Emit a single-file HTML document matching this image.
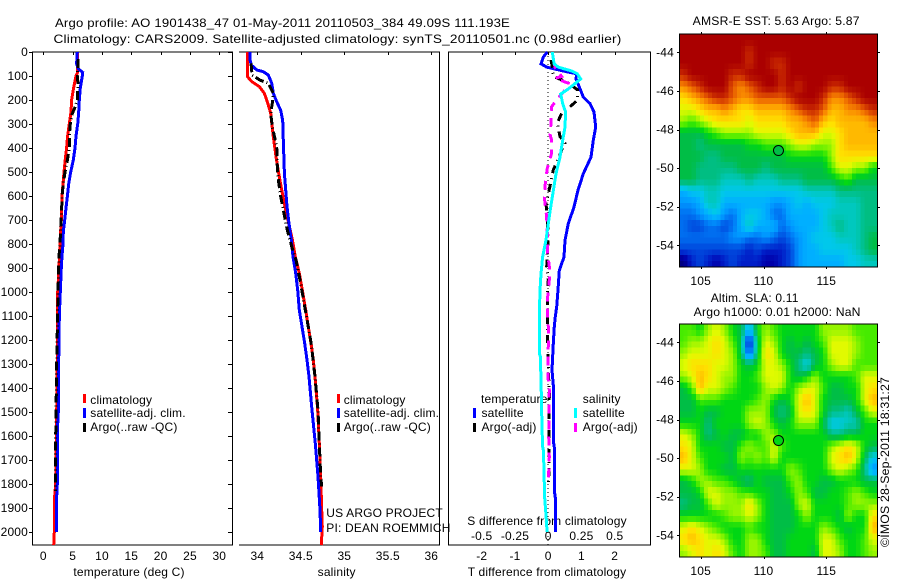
<!DOCTYPE html>
<html lang="en">
<head>
<meta charset="utf-8">
<title>Argo profile 1901438_47</title>
<style>
html,body{margin:0;padding:0;background:#fff;width:900px;height:580px;overflow:hidden}
svg{display:block}
text{font-family:"Liberation Sans",sans-serif;font-size:12px;fill:#000;letter-spacing:.17px}
.c{text-anchor:middle}
.r{text-anchor:end}
</style>
</head>
<body>
<svg id="fig" xmlns="http://www.w3.org/2000/svg" width="900" height="580" viewBox="0 0 900 580">
<text x="55" y="27" textLength="455" lengthAdjust="spacingAndGlyphs">Argo profile: AO 1901438_47 01-May-2011 20110503_384 49.09S 111.193E</text>
<text x="53.5" y="43" textLength="568" lengthAdjust="spacingAndGlyphs">Climatology: CARS2009. Satellite-adjusted climatology: synTS_20110501.nc (0.98d earlier)</text>

<text class="c" x="129" y="576">temperature (deg C)</text>
<text class="c" x="336.7" y="576">salinity</text>
<text class="c" x="547" y="576">T difference from climatology</text>
<text x="467.3" y="525">S difference from climatology</text>

<g>
<rect x="83" y="394" width="3" height="9" fill="#f00"/>
<rect x="83" y="408" width="3" height="10" fill="#00f"/>
<rect x="83" y="423" width="3" height="9" fill="#000"/>
<text x="90.3" y="404">climatology</text>
<text x="90.3" y="417">satellite-adj. clim.</text>
<text x="90.3" y="431">Argo(..raw -QC)</text>
</g>
<g>
<rect x="337" y="394" width="3" height="9" fill="#f00"/>
<rect x="337" y="408" width="3" height="10" fill="#00f"/>
<rect x="337" y="423" width="3" height="9" fill="#000"/>
<text x="343.7" y="404">climatology</text>
<text x="343.7" y="417">satellite-adj. clim.</text>
<text x="343.7" y="431">Argo(..raw -QC)</text>
<text x="326.3" y="517">US ARGO PROJECT</text>
<text x="326.3" y="532">PI: DEAN ROEMMICH</text>
</g>
<g>
<text x="481" y="403">temperature</text>
<text x="582.7" y="403">salinity</text>
<rect x="473" y="408" width="3" height="10" fill="#00f"/>
<rect x="473" y="423" width="3" height="9" fill="#000"/>
<rect x="574" y="408" width="3" height="10" fill="#0ff"/>
<rect x="574" y="423" width="3" height="9" fill="#f0f"/>
<text x="481.5" y="417">satellite</text>
<text x="481.5" y="431">Argo(-adj)</text>
<text x="582.7" y="417">satellite</text>
<text x="582.7" y="431">Argo(-adj)</text>
</g>

<text x="692.7" y="25" textLength="167" lengthAdjust="spacingAndGlyphs">AMSR-E SST: 5.63 Argo: 5.87</text>
<text x="710.7" y="302">Altim. SLA: 0.11</text>
<text x="693.7" y="316" textLength="167" lengthAdjust="spacingAndGlyphs">Argo h1000: 0.01 h2000: NaN</text>
<text transform="translate(889 547) rotate(-90)" textLength="170" lengthAdjust="spacingAndGlyphs">©IMOS 28-Sep-2011 18:31:27</text>
</svg>

<script>
// ---------- Depth axis ----------
const depthTicks = [0,100,200,300,400,500,600,700,800,900,1000,1100,1200,1300,1400,1500,1600,1700,1800,1900,2000];
const tempTicks = [0,5,10,15,20,25,30];
const salTicks = [34,34.5,35,35.5,36];
const tDiffTicks = [-2,-1,0,1,2];
const sDiffTicks = [-0.5,-0.25,0,0.25,0.5];
const sDiffTickLabels = ['-0.5','-0.25','0','0.25','0.5'];
const lonTicks = [105,110,115];
const latTicks = [-44,-46,-48,-50,-52,-54];
const floatLon = 111.193;
const floatLat = -49.09;
const floatSstLevel = 10;
const floatSlaLevel = 11;

// ---------- Temperature panel ----------
const tempClimDepth = [0,50,85,100,150,200,250,300,350,400,450,500,550,600,650,700,800,900,1000,1100,1300,1500,1800,1850,2000,2055];
const tempClimValue = [5.8,5.86,5.86,5.57,5.17,4.83,4.72,4.43,4.14,3.97,3.74,3.52,3.36,3.19,3.14,3.07,2.85,2.68,2.45,2.45,2.39,2.28,2.11,1.94,1.88,1.77];
const tempSatDepth = [0,50,70,85,100,150,200,250,300,350,400,450,500,550,600,650,700,750,800,850,900,1000,1100,1250,1300,1500,1550,1800,1850,2000];
const tempSatValue = [5.8,5.68,5.97,6.71,6.65,6.31,6.14,6.03,5.86,5.57,5.4,5.12,4.67,4.33,4.1,3.87,3.64,3.41,3.36,3.19,3.07,2.9,2.73,2.68,2.56,2.56,2.45,2.39,2.28,2.22];
const tempArgoDepth = [30,100,130,200,230,260,300,350,400,450,500,550,600,650,700,800,850,1000,1300,1600,1800,1830];
const tempArgoValue = [5.97,5.8,5.92,5.8,5.4,4.9,4.6,4.43,4.43,4.1,3.7,3.41,3.19,3.14,3.02,2.85,2.68,2.51,2.28,2.11,2.05,2.05];

// ---------- Salinity panel ----------
const salClimDepth = [0,102,123,144,172,207,255,353,436,505,575,644,714,783,853,922,992,1075,1144,1214,1283,1353,1492,1631,1769,1908,1977,2055];
const salClimValue = [33.885,33.885,33.935,34.023,34.081,34.115,34.154,34.184,34.215,34.246,34.28,34.318,34.361,34.403,34.437,34.483,34.517,34.556,34.586,34.617,34.644,34.663,34.694,34.713,34.729,34.74,34.747,34.736];
const salSatDepth = [0,33,54,75,82,96,130,172,207,243,285,367,505,575,644,714,783,853,922,992,1075,1144,1214,1283,1353,1492,1631,1769,1908,2000];
const salSatValue = [33.916,33.916,33.931,33.993,34.069,34.127,34.165,34.184,34.223,34.269,34.292,34.299,34.311,34.326,34.341,34.364,34.391,34.41,34.441,34.464,34.483,34.514,34.545,34.571,34.594,34.629,34.667,34.698,34.721,34.729];
const salArgoDepth = [47,96,117,130,172,213,255,311,394,477,533,602,658,742,811,866,950,1075,1214,1353,1492,1631,1769,1810];
const salArgoValue = [33.928,33.94,34.03,34.127,34.184,34.172,34.154,34.172,34.223,34.23,34.241,34.269,34.299,34.345,34.395,34.445,34.491,34.552,34.62,34.663,34.698,34.713,34.729,34.74];

// ---------- Difference panel ----------
const tSatDiffDepth = [0,21,49,63,79,91,112,146,188,215,250,313,368,438,507,576,646,715,785,854,910,992,1061,1103,1144,1214,1325,1408,1631,1658,1839,1867,2000];
const tSatDiffValue = [-0.026,-0.146,-0.217,-0.046,0.455,0.856,0.836,0.936,1.057,1.257,1.377,1.428,1.357,1.287,1.057,0.896,0.776,0.605,0.505,0.475,0.335,0.295,0.255,0.214,0.184,0.154,0.114,0.164,0.164,0.195,0.195,0.225,0.225];
const tArgoDiffDepth = [33,63,102,116,130,158,200,234,255,296,352,380,408,436,491,560,630,699,768,838,894,950,1033,1103,1214,1283,1422,1561,1700,1797];
const tArgoDiffValue = [0.084,0.124,0.154,0.405,0.605,0.886,0.886,0.605,0.405,0.275,0.355,0.505,0.405,0.335,0.154,0.054,-0.066,-0.026,0.004,-0.026,-0.046,0.004,-0.026,-0.026,-0.016,-0.006,0.034,0.024,0.024,0.014];
const sSatDiffDepth = [0,49,63,79,91,112,126,154,175,215,250,313,368,438,507,576,646,715,785,854,924,992,1103,1256,1270,1422,1547,1644,1658,1727,1853,1964,2000];
const sSatDiffValue = [0.031,0.044,0.076,0.176,0.219,0.244,0.214,0.151,0.094,0.109,0.131,0.126,0.109,0.089,0.059,0.039,0.019,0.001,-0.017,-0.042,-0.054,-0.062,-0.067,-0.067,-0.059,-0.052,-0.047,-0.042,-0.037,-0.032,-0.027,-0.012,-0.009];
const sArgoDiffDepth = [33,63,102,109,130,158,200,227,269,296,345,368,421,484,546,616,685,754,824,894,950,1019,1103,1144,1214,1353,1408,1492,1603,1686,1797];
const sArgoDiffValue = [0.039,0.051,0.101,0.051,0.151,0.126,0.064,0.026,0.019,0.021,0.014,0.026,0.026,-0.007,-0.022,-0.027,-0.012,-0.007,-0.007,0.008,0.008,-0.004,-0.007,0.001,0.001,-0.002,0.008,0.006,0.004,0.008,0.001];

// ---------- Map colour scale (level 0..20) ----------
const levelColors = ['#000082','#0000aa','#001ec8','#0046dc','#006ef0','#0096ff','#00afff','#00c8eb','#00c8be','#00be82','#00be46','#00d714','#46eb00','#96f500','#e1fa00','#ffe100','#ffb900','#fa8c00','#e65a00','#c82800','#aa0000'];

// ---------- SST map levels (north to south, west to east) ----------
const sstLevels = [
[20,20,20,20,20,20,20,20,20,20,20,20,20,20,20,20,20,20,20,20,20,20,20,20],
[20,20,20,20,20,20,20,20,19,20,20,20,20,20,20,20,20,20,20,20,20,20,20,20],
[20,20,20,20,20,20,20,20,19,20,20,19,19,20,20,20,20,20,20,20,20,20,20,20],
[19,20,20,20,20,20,19,19,20,20,20,20,19,20,20,20,20,20,20,20,20,20,20,20],
[17,18,19,20,20,20,18,17,18,19,20,20,19,20,19,20,20,20,19,19,20,20,20,20],
[15,16,17,18,19,19,18,17,17,18,18,18,18,19,20,20,20,19,17,17,18,19,20,20],
[14,14,15,16,16,17,16,15,15,16,16,16,16,17,18,19,19,18,16,16,17,17,18,19],
[13,12,13,14,15,15,15,15,14,15,15,15,15,16,16,17,18,16,15,16,16,16,16,17],
[10,10,10,11,12,13,13,13,13,14,14,14,14,15,16,16,16,14,14,15,16,16,16,16],
[10,10,9,10,10,10,10,10,11,11,12,12,12,13,14,14,13,13,13,15,16,16,16,16],
[10,10,10,9,9,10,10,10,10,10,10,10,10,11,11,11,11,11,13,15,15,15,15,15],
[10,10,9,9,9,9,9,10,10,10,9,10,10,10,10,10,10,10,12,14,14,13,13,11],
[10,10,9,9,9,8,8,8,9,8,8,8,9,9,9,10,10,10,10,11,12,10,10,10],
[6,7,7,8,8,7,7,7,7,7,7,7,7,7,7,8,8,8,8,9,9,9,9,9],
[5,5,6,8,8,6,6,6,6,6,6,5,5,6,7,6,7,7,7,8,8,8,9,9],
[4,4,5,6,7,5,4,6,7,7,6,4,4,6,6,6,6,7,8,8,8,8,9,9],
[4,3,3,4,4,3,4,6,8,6,6,6,4,5,6,6,6,7,8,9,8,8,9,9],
[4,4,4,4,4,4,5,5,4,4,5,4,3,4,5,6,7,7,7,8,8,8,9,10],
[3,3,3,3,3,3,3,3,2,3,2,2,2,3,5,6,6,7,7,7,7,8,9,10],
[0,2,3,2,1,2,3,2,2,2,1,1,2,3,5,6,6,6,6,6,7,7,8,8]
];

// ---------- SLA map levels (north to south, west to east) ----------
const slaLevels = [
[12,12,11,13,14,13,11,10,6,11,13,12,11,11,11,11,11,13,13,13,13,12,12,12],
[12,13,13,14,15,14,12,10,1,10,14,13,11,10,11,10,11,12,14,14,14,13,12,12],
[13,14,14,14,15,14,13,10,3,10,15,14,11,10,10,9,10,11,14,14,14,13,12,12],
[14,15,15,15,14,14,13,11,10,11,14,14,13,11,9,7,10,11,13,14,14,12,12,12],
[13,14,16,15,14,13,13,11,11,12,14,14,14,11,10,11,13,11,11,11,11,12,14,14],
[10,12,16,14,14,13,12,11,11,11,13,14,13,11,13,14,14,12,10,10,11,11,14,15],
[10,10,12,12,12,11,11,11,11,12,13,11,10,11,14,16,14,11,10,10,10,11,14,16],
[10,10,11,10,10,11,11,11,13,13,13,10,9,10,14,15,14,11,9,9,8,10,12,14],
[11,11,11,9,11,11,11,11,13,14,13,11,10,11,13,13,13,10,7,7,8,8,11,11],
[14,13,11,9,10,11,10,10,11,11,13,13,11,11,11,11,11,11,9,9,10,10,11,11],
[15,14,11,11,11,10,10,12,13,12,12,14,12,11,11,11,11,11,13,14,15,14,11,10],
[16,14,12,11,11,11,10,13,12,13,12,14,11,11,11,11,11,11,14,15,16,14,10,7],
[14,14,13,11,11,10,10,11,11,11,11,11,11,13,12,11,11,11,13,14,13,12,9,5],
[10,11,13,13,12,12,11,10,9,11,10,10,10,12,13,11,11,10,10,11,11,11,10,10],
[10,10,11,14,14,13,13,12,12,11,11,10,10,11,13,12,10,10,11,11,12,13,12,11],
[9,10,10,12,14,13,13,13,15,13,11,10,10,10,13,14,11,11,11,11,12,13,13,13],
[11,11,11,11,11,12,13,13,14,13,11,10,10,10,11,13,11,11,11,10,13,11,11,15],
[14,15,14,13,12,11,11,11,12,11,11,10,10,10,11,11,11,13,12,11,10,11,11,16],
[15,16,15,14,14,13,11,11,13,13,11,10,10,11,11,11,11,14,14,12,11,11,12,14],
[13,14,15,14,15,14,12,11,13,13,12,10,10,11,11,11,10,14,14,13,11,11,12,13]
];

// ---------- Scales ----------
const depthY = d => 52 + 0.24 * d;
const tempX = v => 43.3 + 5.867 * v;
const salX = v => 257.3 + 87 * (v - 34);
const tDiffX = v => 548.2 + 33.25 * v;
const sDiffX = v => 548.2 + 133 * v;
const lonX = lon => 700.7 + 12.56 * (lon - 105);
const latY = (lat, top) => top + 18 + 19.3 * (-44 - lat);

const svg = document.getElementById('fig');
const NS = 'http://www.w3.org/2000/svg';
function mk(tag, attrs, parent) {
  const el = document.createElementNS(NS, tag);
  for (const k in attrs) el.setAttribute(k, attrs[k]);
  (parent || svg).appendChild(el);
  return el;
}
function mkLabel(str, x, y, cls) {
  const el = mk('text', {x: x, y: y, 'class': cls});
  el.textContent = str;
  return el;
}
function drawProfile(name, xs, depths, values, color, width, dash) {
  const pts = depths.map((d, i) => xs(values[i]).toFixed(1) + ',' + depthY(d).toFixed(1)).join(' ');
  const attrs = {points: pts, fill: 'none', stroke: color, 'stroke-width': width, 'shape-rendering': 'crispEdges'};
  if (dash) attrs['stroke-dasharray'] = dash;
  const el = mk('polyline', attrs);
  
  
}
function hairline(name, x1, y1, x2, y2) {
  const el = mk('line', {x1: x1, y1: y1, x2: x2, y2: y2, stroke: '#000', 'stroke-width': 1, 'shape-rendering': 'crispEdges'});
  
  
}

// ---------- Profile panels: frames ----------
hairline('temperature-axis-top', 32, 52, 233, 52);
hairline('temperature-axis-bottom', 32, 545, 233, 545);
hairline('temperature-axis-left', 32.5, 52, 32.5, 545);
hairline('temperature-axis-right', 232.5, 52, 232.5, 545);
hairline('salinity-axis-top', 239, 52, 440, 52);
hairline('salinity-axis-bottom', 239, 545, 440, 545);
hairline('salinity-axis-right', 439.5, 52, 439.5, 545);
hairline('difference-axis-top', 448, 52, 651, 52);
hairline('difference-axis-bottom', 448, 545, 651, 545);
hairline('difference-axis-left', 448.5, 52, 448.5, 545);
hairline('difference-axis-right', 650.5, 52, 650.5, 545);

depthTicks.forEach(d => {
  const y = Math.round(depthY(d)) + 0.5;
  hairline('depth-tick-left', 29, y, 32, y);
  hairline('depth-tick-right', 228, y, 232, y);
  const lab = mkLabel(String(d), 28, depthY(d) + 4, 'r');
  
  
});
tempTicks.forEach(v => {
  const x = Math.round(tempX(v)) + 0.5;
  hairline('temperature-tick', x, 52, x, 55);
  const lab = mkLabel(String(v), tempX(v), 560, 'c');
  
  
});
salTicks.forEach(v => {
  const x = Math.round(salX(v)) + 0.5;
  hairline('salinity-tick', x, 52, x, 55);
  const lab = mkLabel(String(v), salX(v), 560, 'c');
  
  
});
tDiffTicks.forEach(v => {
  const x = Math.round(tDiffX(v)) + 0.5;
  hairline('t-difference-tick', x, 52, x, 55);
  const lab = mkLabel(String(v), tDiffX(v), 560, 'c');
  
  
});
sDiffTicks.forEach((v, i) => {
  const lab = mkLabel(sDiffTickLabels[i], sDiffX(v), 540, 'c');
  
  
});

// ---------- Profile panels: series ----------
drawProfile('temperature-climatology-line', tempX, tempClimDepth, tempClimValue, '#f00', 3);
drawProfile('temperature-satellite-line', tempX, tempSatDepth, tempSatValue, '#00f', 3);
drawProfile('temperature-argo-line', tempX, tempArgoDepth, tempArgoValue, '#000', 3, '9 3 1 3');

drawProfile('salinity-climatology-line', salX, salClimDepth, salClimValue, '#f00', 3);
drawProfile('salinity-satellite-line', salX, salSatDepth, salSatValue, '#00f', 3);
drawProfile('salinity-argo-line', salX, salArgoDepth, salArgoValue, '#000', 3, '9 3 1 3');

const zeroLine = mk('line', {x1: tDiffX(0), y1: 52, x2: tDiffX(0), y2: 545, stroke: '#000', 'stroke-width': 1, 'stroke-dasharray': '1 3', 'shape-rendering': 'crispEdges'});



drawProfile('t-difference-satellite-line', tDiffX, tSatDiffDepth, tSatDiffValue, '#00f', 3);
drawProfile('t-difference-argo-line', tDiffX, tArgoDiffDepth, tArgoDiffValue, '#000', 3, '8 5 1 5');
drawProfile('s-difference-argo-line', sDiffX, sArgoDiffDepth, sArgoDiffValue, '#f0f', 3, '9 7');
drawProfile('s-difference-satellite-line', sDiffX, sSatDiffDepth, sSatDiffValue, '#0ff', 3);

// ---------- Maps ----------
function hexToRgb(h) {
  return [parseInt(h.slice(1,3),16), parseInt(h.slice(3,5),16), parseInt(h.slice(5,7),16)];
}
function levelColor(v) {
  const t = Math.max(0, Math.min(levelColors.length - 1, v));
  const i = Math.min(levelColors.length - 2, Math.floor(t));
  const f = t - i;
  const a = hexToRgb(levelColors[i]), b = hexToRgb(levelColors[i + 1]);
  return 'rgb(' + a.map((q, k) => Math.round(q + (b[k] - q) * f)).join(',') + ')';
}
// Shade each reading across 2x2 drawn blocks, blending toward neighbouring readings.
function shadeAt(levels, rf, cf) {
  const nr = levels.length, nc = levels[0].length;
  const r = Math.max(0, Math.min(nr - 1, rf)), c = Math.max(0, Math.min(nc - 1, cf));
  const r0 = Math.floor(r), c0 = Math.floor(c);
  const r1 = Math.min(nr - 1, r0 + 1), c1 = Math.min(nc - 1, c0 + 1);
  const fr = r - r0, fc = c - c0;
  return (levels[r0][c0] * (1 - fc) + levels[r0][c1] * fc) * (1 - fr) +
         (levels[r1][c0] * (1 - fc) + levels[r1][c1] * fc) * fr;
}
function drawMap(prefix, levels, top, markerLevel) {
  const bottom = top + 232.4;
  const left = 679.3, right = 876.7;
  const group = mk('g', {});
  
  
  const nr = levels.length, nc = levels[0].length;
  const SUB = 2;
  for (let r = 0; r < nr * SUB; r++) {
    for (let c = 0; c < nc * SUB; c++) {
      const x0 = left + (right - left) * c / (nc * SUB);
      const x1 = left + (right - left) * (c + 1) / (nc * SUB);
      const y0 = top + (bottom - top) * r / (nr * SUB);
      const y1 = top + (bottom - top) * (r + 1) / (nr * SUB);
      const v = shadeAt(levels, (r + 0.5) / SUB - 0.5, (c + 0.5) / SUB - 0.5);
      const cell = mk('rect', {x: x0.toFixed(2), y: y0.toFixed(2), width: (x1 - x0 + 0.4).toFixed(2), height: (y1 - y0 + 0.4).toFixed(2), fill: levelColor(v), 'shape-rendering': 'crispEdges'}, group);
      
      
    }
  }
  const yT = Math.round(top), yB = Math.round(bottom);
  hairline(prefix + '-axis-top', 679, yT, 878, yT);
  hairline(prefix + '-axis-bottom', 679, yB, 878, yB);
  hairline(prefix + '-axis-left', 679.5, yT, 679.5, yB);
  hairline(prefix + '-axis-right', 877.5, yT, 877.5, yB);
  lonTicks.forEach(lon => {
    const x = Math.round(lonX(lon)) + 0.5;
    hairline(prefix + '-lon-tick-top', x, yT - 2, x, yT);
    hairline(prefix + '-lon-tick-bottom', x, yB, x, yB + 2);
    const lab = mkLabel(String(lon), lonX(lon), yB + 18, 'c');
    
    
  });
  latTicks.forEach(lat => {
    const y = Math.round(latY(lat, top)) + 0.5;
    hairline(prefix + '-lat-tick-left', 677, y, 679, y);
    hairline(prefix + '-lat-tick-right', 878, y, 880, y);
    const lab = mkLabel(String(lat), 674, latY(lat, top) + 4, 'r');
    
    
  });
  const marker = mk('ellipse', {cx: lonX(floatLon), cy: latY(floatLat, top), rx: 5, ry: 5, fill: levelColor(markerLevel), stroke: '#000', 'stroke-width': 1});
  
  
}
drawMap('sst-map', sstLevels, 34.3, floatSstLevel);
drawMap('sla-map', slaLevels, 324.3, floatSlaLevel);
</script>
</body>
</html>
